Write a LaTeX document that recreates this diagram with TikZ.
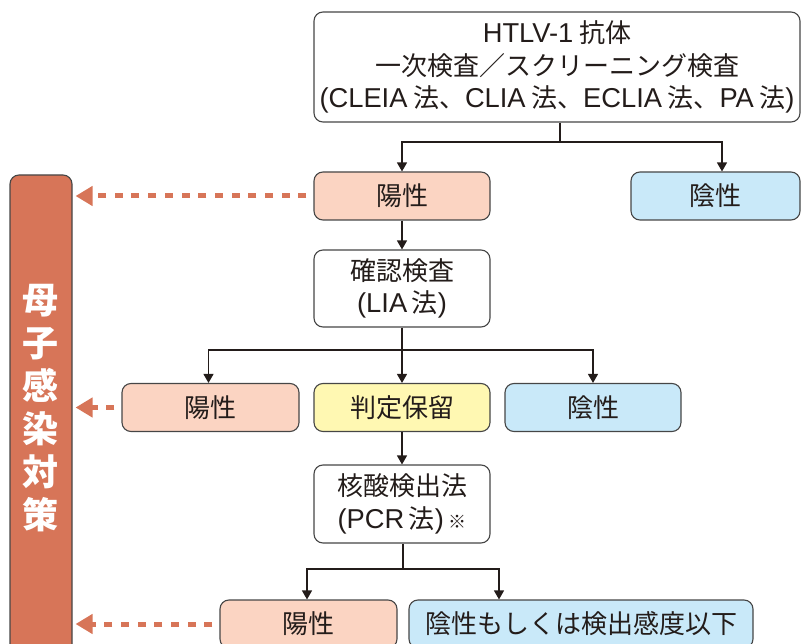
\documentclass[tikz,border=0pt]{standalone}
\usepackage{fontspec}
\setmainfont{Noto Sans CJK JP}
\newfontfamily\lat[Scale=1.05]{Liberation Sans}
\usetikzlibrary{arrows.meta}
\definecolor{pinkfill}{RGB}{251,212,194}
\definecolor{bluefill}{RGB}{201,233,249}
\definecolor{yellowfill}{RGB}{255,248,178}
\definecolor{orangec}{RGB}{215,117,88}
\definecolor{bordc}{RGB}{70,70,70}
\definecolor{inkc}{RGB}{35,28,26}
\newcommand{\gp}{\kern0.2em}
\tikzset{
  box/.style={draw=bordc, line width=1.1pt, rounded corners=9pt, inner sep=0pt,
    align=center, text=inkc, font=\fontsize{26}{32.5}\selectfont},
  pinkbox/.style={box, fill=pinkfill},
  bluebox/.style={box, fill=bluefill},
  yellowbox/.style={box, fill=yellowfill},
  whitebox/.style={box, fill=white},
  conn/.style={draw=inkc, line width=1.2pt},
  arr/.style={conn, -{Triangle[length=9pt,width=10pt]}},
  darr/.style={draw=orangec, line width=5pt, dash pattern=on 8pt off 8.7pt,
    -{Triangle[length=17pt,width=19pt]}, shorten <=7pt, shorten >=3pt},
}
\begin{document}
\begin{tikzpicture}[x=1pt,y=-1pt]
\useasboundingbox (0,0) rectangle (801,644);
\clip (0,0) rectangle (801,644);
% boxes
\node[whitebox, minimum width=486pt, minimum height=110pt] (top) at (557,67)
  {{\lat HTLV-1} 抗体\\一次検査／スクリーニング検査\\{\lat (CLEIA\gp}法、{\lat CLIA\gp}法、{\lat ECLIA\gp}法、{\lat PA\gp}法{\lat )}};
\node[pinkbox, minimum width=176pt, minimum height=48pt] (pos1) at (402,196) {陽性};
\node[bluebox, minimum width=169pt, minimum height=48pt] (neg1) at (715.5,196) {陰性};
\node[whitebox, minimum width=176pt, minimum height=77pt] (conf) at (402,288.5)
  {確認検査\\{\lat (LIA\,}法{\lat )}};
\node[pinkbox, minimum width=177pt, minimum height=48pt] (pos2) at (210.5,407.5) {陽性};
\node[yellowbox, minimum width=176pt, minimum height=48pt] (hold) at (402,407.5) {判定保留};
\node[bluebox, minimum width=176pt, minimum height=48pt] (neg2) at (593,407.5) {陰性};
\node[whitebox, minimum width=176pt, minimum height=78pt] (pcr) at (402,504)
  {核酸検出法\\{\lat (PCR\,}法{\lat )}\,{\fontsize{18}{18}\selectfont ※}};
\node[pinkbox, minimum width=177pt, minimum height=48pt] (pos3) at (308.5,624) {陽性};
\node[bluebox, minimum width=344pt, minimum height=48pt] (neg3) at (581,624) {陰性もしくは検出感度以下};
% left box
\node[draw=bordc, line width=1.1pt, fill=orangec, rounded corners=9pt,
  minimum width=62pt, minimum height=490pt, inner sep=0pt] (lbox) at (41,420) {};
\node[text=white, align=center, inner sep=0pt,
  font=\fontsize{36}{43}\selectfont\bfseries] (lbt) at (41,408.5) {母\\子\\感\\染\\対\\策};
% connectors
\coordinate (j1) at (560,142);
\draw[conn] (top.south -| j1) -- (j1);
\draw[arr] (j1) -| (pos1.north);
\draw[arr] (j1) -| ([xshift=6.5pt]neg1.north);
\draw[arr] (pos1.south) -- (conf.north);
\coordinate (j2) at (402,350);
\draw[conn] (conf.south) -- (j2);
\draw[arr] (j2) -| ([xshift=-2pt]pos2.north);
\draw[arr] (j2) -| (hold.north);
\draw[arr] (j2) -| (neg2.north);
\draw[arr] (hold.south) -- (pcr.north);
\coordinate (j3) at (403,569);
\draw[conn] (pcr.south -| j3) -- (j3);
\draw[arr] (j3) -| ([xshift=-1.5pt]pos3.north);
\draw[arr] (j3) -| ([xshift=-82pt]neg3.north);
% dashed arrows
\draw[darr] (pos1.west) -- (lbox.east |- pos1.west);
\draw[darr] (pos2.west) -- (lbox.east |- pos2.west);
\draw[darr] (pos3.west) -- (lbox.east |- pos3.west);
\end{tikzpicture}
\end{document}
